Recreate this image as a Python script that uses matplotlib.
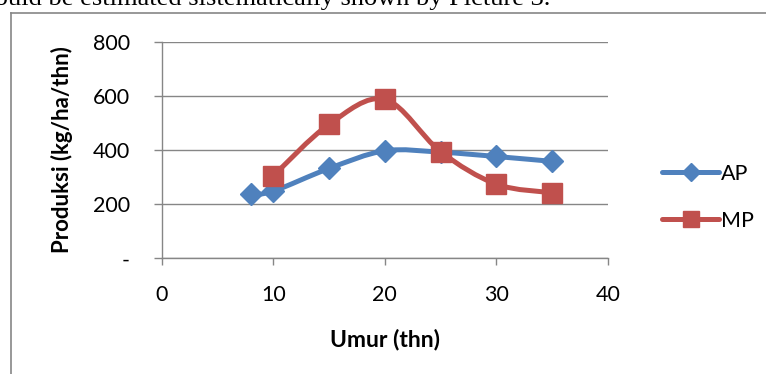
import matplotlib
matplotlib.use("Agg")
import matplotlib.pyplot as plt
from matplotlib.path import Path
from matplotlib.patches import PathPatch
from matplotlib.lines import Line2D
import numpy as np

# ---- data ----
ap_x = [8, 10, 15, 20, 25, 30, 35]
ap_y = [236, 248, 332, 397, 392, 376, 358]
mp_x = [10, 15, 20, 25, 30, 35]
mp_y = [305, 495, 587, 394, 274, 242]
series_names = ["AP", "MP"]
x_ticks = [0, 10, 20, 30, 40]
y_ticks = [0, 200, 400, 600, 800]
y_tick_labels = ["-", "200", "400", "600", "800"]
x_label = "Umur (thn)"
y_label = "Produksi (kg/ha/thn)"
caption = "could be estimated sistematically shown by Picture 3."

BLUE = "#4F81BD"
RED = "#C0504D"
GRAY = "#868686"

W, H = 766, 374
fig = plt.figure(figsize=(W / 100, H / 100), dpi=100)
plt.rcParams['font.family'] = ['Lato', 'DejaVu Sans']

ax = fig.add_axes([162 / W, 1 - 258.3 / H, (607.7 - 162) / W, (258.3 - 41.7) / H])


def smooth_path(xs, ys):
    pts = np.column_stack([xs, ys]).astype(float)
    n = len(pts)
    verts = [pts[0]]
    codes = [Path.MOVETO]
    for i in range(n - 1):
        p0 = pts[i - 1] if i > 0 else pts[i]
        p1 = pts[i]
        p2 = pts[i + 1]
        p3 = pts[i + 2] if i + 2 < n else pts[i + 1]
        c1 = p1 + (p2 - p0) / 6.0
        c2 = p2 - (p3 - p1) / 6.0
        verts += [c1, c2, p2]
        codes += [Path.CURVE4] * 3
    return Path(verts, codes)


for xs, ys, col in [(ap_x, ap_y, BLUE), (mp_x, mp_y, RED)]:
    ax.add_patch(PathPatch(smooth_path(xs, ys), facecolor="none", edgecolor=col,
                           lw=3.6, capstyle="round", joinstyle="round", zorder=3))

ax.plot(ap_x, ap_y, ls="none", marker="D", ms=11, color=BLUE, zorder=4)
ax.plot(mp_x, mp_y, ls="none", marker="s", ms=14, color=RED, zorder=5)

ax.set_xlim(0, 40)
ax.set_ylim(0, 800)
ax.set_xticks(x_ticks)
ax.set_yticks(y_ticks)
ax.set_yticklabels(y_tick_labels)
ax.yaxis.grid(True, color=GRAY, lw=1.0)
ax.set_axisbelow(True)
for s in ["top", "right"]:
    ax.spines[s].set_visible(False)
for s in ["left", "bottom"]:
    ax.spines[s].set_color(GRAY)
    ax.spines[s].set_linewidth(1.0)
ax.tick_params(axis="y", direction="out", length=6, width=1.0, color=GRAY,
               pad=17, labelsize=15.5, labelcolor="black")
ax.tick_params(axis="x", direction="out", length=5, width=1.0, color=GRAY,
               pad=14, labelsize=15.5, labelcolor="black")

ax.set_xlabel(x_label, fontsize=16.5, fontweight="bold", va="center")
ax.xaxis.set_label_coords(0.5, (258.3 - 339) / 216.6)
ax.set_ylabel(y_label, fontsize=16, fontweight="bold", va="center")
ax.yaxis.set_label_coords((62 - 162) / 445.7, 0.5)

handles = [Line2D([], [], color=BLUE, lw=3.6, marker="D", ms=9, solid_capstyle="round"),
           Line2D([], [], color=RED, lw=3.6, marker="s", ms=11, solid_capstyle="round")]
fig.legend(handles, series_names, loc="upper left", bbox_to_anchor=(662 / W, 1 - 164 / H),
           frameon=False, fontsize=15.5, handlelength=2.65, handletextpad=0.1,
           labelspacing=1.25, borderpad=0, borderaxespad=0)

# outer chart frame (left and top edges visible)
fig.add_artist(Line2D([11 / W, 11 / W], [0, 1 - 13 / H], color=GRAY, lw=1.2,
                      transform=fig.transFigure))
fig.add_artist(Line2D([11 / W, 1], [1 - 13 / H, 1 - 13 / H], color=GRAY, lw=1.2,
                      transform=fig.transFigure))

fig.text(550 / W, 1 - 5 / H, caption, ha="right", va="baseline", fontsize=19,
         family=["Liberation Serif", "DejaVu Serif"])

fig.savefig("out.png", dpi=100)
